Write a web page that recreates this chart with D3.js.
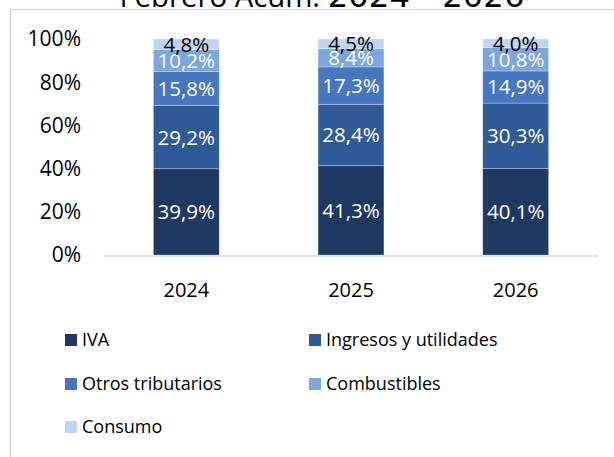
<!DOCTYPE html>
<html>
<head>
<meta charset="utf-8">
<script src="https://cdn.jsdelivr.net/npm/d3@7"></script>
<style>
  body { margin: 0; background: #fff; }
  svg { display: block; font-family: "Open Sans", "Liberation Sans", sans-serif; }
</style>
</head>
<body>
<svg id="chart" width="614" height="457"></svg>
<script>
// data
var years = ["2024", "2025", "2026"];
var seriesNames = ["IVA", "Ingresos y utilidades", "Otros tributarios", "Combustibles", "Consumo"];
var iva = [39.9, 41.3, 40.1];
var ingresos = [29.2, 28.4, 30.3];
var otros = [15.8, 17.3, 14.9];
var combustibles = [10.2, 8.4, 10.8];
var consumo = [4.8, 4.5, 4.0];
var yTicks = [0, 20, 40, 60, 80, 100];
var colors = ["#1f3864", "#2e5a97", "#4677c0", "#7ba6de", "#bed4f0"];
var labelColors = ["#fff", "#fff", "#fff", "#fff", "#000"];

var svg = d3.select("#chart");

// frame
svg.append("rect")
    .attr("x", 10.5).attr("y", 9.5)
    .attr("width", 640).attr("height", 500)
    .attr("fill", "none")
    .attr("stroke", "#d9d9d9")
    .attr("stroke-width", 1.5);

// title (cut at the top like the screenshot)
var title = svg.append("text")
    .attr("x", 322).attr("y", 7)
    .attr("text-anchor", "middle")
    .attr("font-size", 29)
    .attr("fill", "#000")
    .attr("textLength", 405)
    .attr("lengthAdjust", "spacingAndGlyphs");
title.append("tspan").text("Febrero Acum. ");
title.append("tspan").attr("font-family", "DejaVu Sans").attr("font-size", 32).text("2024 - 2026");

var rows = years.map(function(y, i) {
  return { year: y, IVA: iva[i], "Ingresos y utilidades": ingresos[i],
           "Otros tributarios": otros[i], Combustibles: combustibles[i], Consumo: consumo[i] };
});

// normalise each column to 100% like Excel's 100% stacked column
var stacked = d3.stack().keys(seriesNames).offset(d3.stackOffsetExpand)(rows);

var x = d3.scaleBand().domain(years).range([104, 598]).paddingInner(0.6).paddingOuter(0.3);
var y = d3.scaleLinear().domain([0, 1]).range([255, 39]);

// y axis labels
svg.append("g").selectAll("text")
    .data(yTicks)
    .enter().append("text")
    .attr("x", 81)
    .attr("y", function(d) { return y(d / 100); })
    .attr("dy", "0.35em")
    .attr("text-anchor", "end")
    .attr("font-size", 21)
    .attr("fill", "#000")
    .text(function(d) { return d + "%"; });

// bars
var layer = svg.append("g").selectAll("g")
    .data(stacked)
    .enter().append("g")
    .attr("fill", function(d, i) { return colors[i]; });

layer.selectAll("rect")
    .data(function(d) { return d; })
    .enter().append("rect")
    .attr("x", function(d) { return x(d.data.year); })
    .attr("y", function(d) { return y(d[1]); })
    .attr("width", x.bandwidth())
    .attr("height", function(d) { return y(d[0]) - y(d[1]); })
    .attr("stroke", "rgba(255,255,255,0.35)")
    .attr("stroke-width", 0.8);

// x axis line
svg.append("line")
    .attr("x1", 104).attr("x2", 598)
    .attr("y1", 256).attr("y2", 256)
    .attr("stroke", "#d9d9d9")
    .attr("stroke-width", 1.5);

// value labels
stacked.forEach(function(s, si) {
  svg.append("g").selectAll("text")
      .data(s)
      .enter().append("text")
      .attr("x", function(d) { return x(d.data.year) + x.bandwidth() / 2; })
      .attr("y", function(d) { return (y(d[0]) + y(d[1])) / 2; })
      .attr("dy", "0.36em")
      .attr("text-anchor", "middle")
      .attr("font-size", 20.5)
      .attr("fill", labelColors[si])
      .text(function(d) { return d.data[s.key].toFixed(1).replace(".", ",") + "%"; });
});

// x labels
svg.append("g").selectAll("text")
    .data(years)
    .enter().append("text")
    .attr("x", function(d) { return x(d) + x.bandwidth() / 2; })
    .attr("y", 290)
    .attr("dy", "0.35em")
    .attr("text-anchor", "middle")
    .attr("font-size", 20)
    .attr("fill", "#000")
    .text(function(d) { return d; });

// legend
var legendPos = [[65, 340], [309, 340], [65, 384], [309, 384], [65, 427]];
var legend = svg.append("g").selectAll("g")
    .data(seriesNames)
    .enter().append("g")
    .attr("transform", function(d, i) { return "translate(" + legendPos[i][0] + "," + legendPos[i][1] + ")"; });

legend.append("rect")
    .attr("x", 0).attr("y", -6)
    .attr("width", 12).attr("height", 12)
    .attr("fill", function(d, i) { return colors[i]; });

legend.append("text")
    .attr("x", 17).attr("y", 0)
    .attr("dy", "0.35em")
    .attr("font-size", 18)
    .attr("fill", "#000")
    .text(function(d) { return d; });
</script>
</body>
</html>
